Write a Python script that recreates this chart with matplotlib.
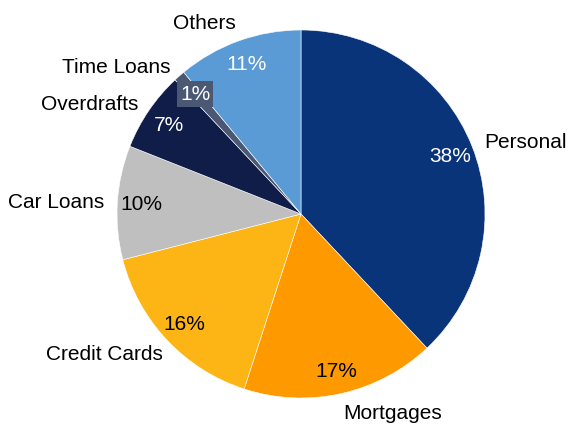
import numpy as np
import matplotlib.pyplot as plt

plt.rcParams['font.family'] = ['Liberation Sans', 'DejaVu Sans']

# Data
categories = ['Personal', 'Mortgages', 'Credit Cards', 'Car Loans', 'Overdrafts', 'Time Loans', 'Others']
shares = [38, 17, 16, 10, 7, 1, 11]
colors = ['#0A347A', '#FF9900', '#FDB515', '#BFBFBF', '#101D48', '#4B5874', '#5B9BD5']
pct_colors = ['white', 'black', 'black', 'black', 'white', 'white', 'white']

# label placement (distance from centre in radii, alignment)
label_dist = [1.07, 1.05, 1.03, 1.07, 1.07, 1.07, 1.05]
label_ha = ['left', 'left', 'right', 'right', 'right', 'right', 'right']
label_va = ['center', 'top', 'top', 'center', 'center', 'center', 'bottom']
pct_dist = 0.87

fig = plt.figure(figsize=(5.7, 4.27), dpi=100)
ax = fig.add_axes([(301 - 184) / 570, (212 - 184) / 427, 368 / 570, 368 / 427])

wedges, _ = ax.pie(shares, colors=colors, startangle=90, counterclock=False, radius=1,
                   wedgeprops=dict(edgecolor='white', linewidth=0.4))

for w, name, val, pc, d, ha, va in zip(wedges, categories, shares, pct_colors, label_dist, label_ha, label_va):
    mid = np.deg2rad((w.theta1 + w.theta2) / 2)
    c, s = np.cos(mid), np.sin(mid)
    ax.text(d * c, d * s, name, ha=ha, va=va, fontsize=15, color='black')
    box = None
    if val < 3:
        box = dict(boxstyle='square,pad=0.15', fc=w.get_facecolor(), ec='none')
    ax.text(pct_dist * c, pct_dist * s, f'{val}%', ha='center', va='center',
            fontsize=15, color=pc, bbox=box)

ax.set_xlim(-1, 1)
ax.set_ylim(-1, 1)
ax.set_aspect('auto')
ax.axis('off')

fig.savefig('out.png', dpi=100)
